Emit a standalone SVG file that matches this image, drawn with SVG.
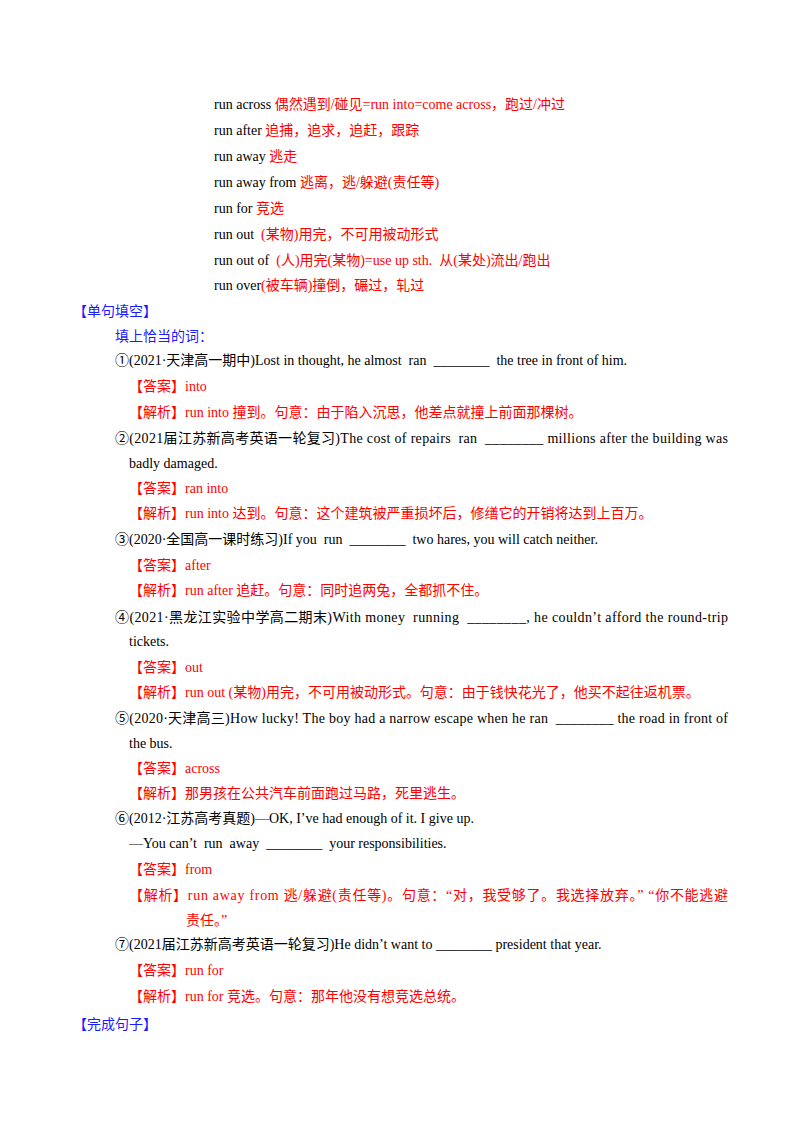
<svg xmlns="http://www.w3.org/2000/svg" width="800" height="1132" viewBox="0 0 800 1132" xml:space="preserve">
<style>
text{font-family:"Liberation Serif","Noto Sans CJK SC",serif;font-size:14px;fill:#000;white-space:pre}
.r{fill:#ff0000}.b{fill:#1a1aff}
</style>
<rect width="800" height="1132" fill="#fff"/>
<g id="list">
<text x="214" y="109">run across <tspan class="r">偶然遇到/碰见=run into=come across，跑过/冲过</tspan></text>
<text x="214" y="135">run after <tspan class="r">追捕，追求，追赶，跟踪</tspan></text>
<text x="214" y="161">run away <tspan class="r">逃走</tspan></text>
<text x="214" y="187">run away from <tspan class="r">逃离，逃/躲避(责任等)</tspan></text>
<text x="214" y="213">run for <tspan class="r">竞选</tspan></text>
<text x="214" y="239">run out  <tspan class="r">(某物)用完，不可用被动形式</tspan></text>
<text x="214" y="265">run out of  <tspan class="r">(人)用完(某物)=use up sth.  从(某处)流出/跑出</tspan></text>
<text x="214" y="290">run over<tspan class="r">(被车辆)撞倒，碾过，轧过</tspan></text>
</g>
<g id="exercises">
<text x="73" y="316" class="b">【单句填空】</text>
<text x="115" y="341" class="b">填上恰当的词：</text>
<text x="115" y="365">①(2021·天津高一期中)Lost in thought, he almost  ran  ________  the tree in front of him.</text>
<text x="129" y="391" class="r">【答案】into</text>
<text x="129" y="417" class="r">【解析】run into 撞到。句意：由于陷入沉思，他差点就撞上前面那棵树。</text>
<text x="115" y="443" textLength="613" lengthAdjust="spacing">②(2021届江苏新高考英语一轮复习)The cost of repairs  ran  ________ millions after the building was</text>
<text x="129" y="468">badly damaged.</text>
<text x="129" y="493" class="r">【答案】ran into</text>
<text x="129" y="518" class="r">【解析】run into 达到。句意：这个建筑被严重损坏后，修缮它的开销将达到上百万。</text>
<text x="115" y="544">③(2020·全国高一课时练习)If you  run  ________  two hares, you will catch neither.</text>
<text x="129" y="570" class="r">【答案】after</text>
<text x="129" y="595" class="r">【解析】run after 追赶。句意：同时追两兔，全都抓不住。</text>
<text x="115" y="622" textLength="613" lengthAdjust="spacing">④(2021·黑龙江实验中学高二期末)With money  running  ________, he couldn’t afford the round-trip</text>
<text x="129" y="646">tickets.</text>
<text x="129" y="672" class="r">【答案】out</text>
<text x="129" y="697" class="r">【解析】run out (某物)用完，不可用被动形式。句意：由于钱快花光了，他买不起往返机票。</text>
<text x="115" y="723" textLength="613" lengthAdjust="spacing">⑤(2020·天津高三)How lucky! The boy had a narrow escape when he ran  ________ the road in front of</text>
<text x="129" y="748">the bus.</text>
<text x="129" y="773" class="r">【答案】across</text>
<text x="129" y="798" class="r">【解析】那男孩在公共汽车前面跑过马路，死里逃生。</text>
<text x="115" y="823">⑥(2012·江苏高考真题)—OK, I’ve had enough of it. I give up.</text>
<text x="129" y="848">—You can’t  run  away  ________  your responsibilities.</text>
<text x="129" y="874" class="r">【答案】from</text>
<text x="129" y="900" class="r" textLength="599" lengthAdjust="spacing">【解析】run away from 逃/躲避(责任等)。句意：“对，我受够了。我选择放弃。” “你不能逃避</text>
<text x="186" y="925" class="r">责任。”</text>
<text x="115" y="949">⑦(2021届江苏新高考英语一轮复习)He didn’t want to ________ president that year.</text>
<text x="129" y="975" class="r">【答案】run for</text>
<text x="129" y="1001" class="r">【解析】run for 竞选。句意：那年他没有想竞选总统。</text>
<text x="73" y="1029" class="b">【完成句子】</text>
</g>
</svg>
